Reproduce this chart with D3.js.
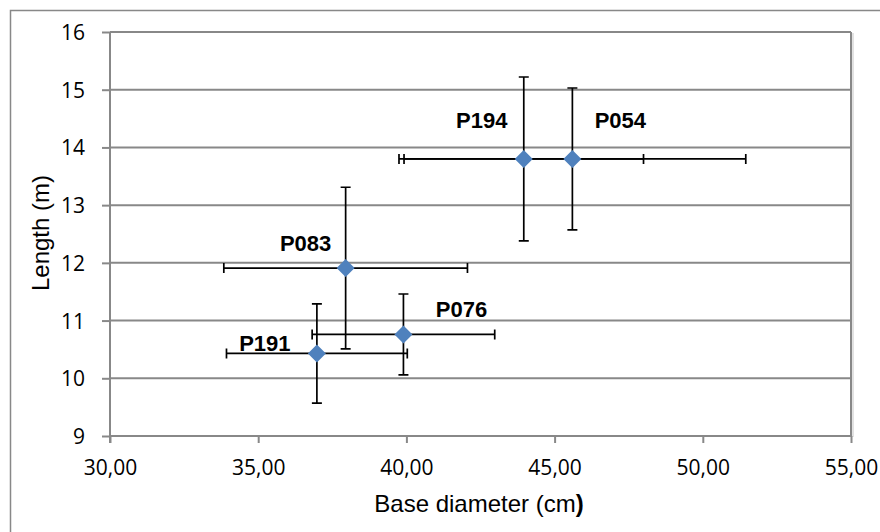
<!DOCTYPE html>
<html>
<head>
<meta charset="utf-8">
<script src="https://cdn.jsdelivr.net/npm/d3@7"></script>
<style>
  body { margin: 0; background: #fff; }
  svg { display: block; }
</style>
</head>
<body>
<div id="chart"></div>
<script>
// poles: base diameter (cm) vs length (m), with +/- error
var names    = ["P194", "P054", "P083", "P076", "P191"];
var diameter = [43.96, 45.60, 37.95, 39.90, 36.98];
var lengthM  = [13.80, 13.80, 11.91, 10.76, 10.43];
var diamErr  = [4.04, 5.85, 4.11, 3.08, 3.05];
var lenErr   = [1.42, 1.23, 1.40, 0.70, 0.86];

var xTicks = [30, 35, 40, 45, 50, 55];
var yTicks = [9, 10, 11, 12, 13, 14, 15, 16];

// label placement relative to the marker (px)
var labelDx = [-42, 48, -40, 58, -52];
var labelDy = [-31, -31, -17, -17, -2];

var W = 880, H = 532;
var plot = {left: 110, right: 851, top: 32, bottom: 436};
var grey = "#888888";

var svg = d3.select("#chart").append("svg")
    .attr("width", W)
    .attr("height", H);

svg.append("rect").attr("width", W).attr("height", H).attr("fill", "#fff");

// chart area border (runs off the picture on the right and bottom)
svg.append("rect")
    .attr("x", 10.5).attr("y", 10.5)
    .attr("width", W).attr("height", H)
    .attr("fill", "none")
    .attr("stroke", grey)
    .attr("stroke-width", 1.5);

var x = d3.scaleLinear().domain([30, 55]).range([plot.left, plot.right]);
var y = d3.scaleLinear().domain([9, 16]).range([plot.bottom, plot.top]);

var comma = d3.formatLocale({decimal: ",", thousands: ".", grouping: [3], currency: ["", ""]}).format(".2f");

var data = names.map(function(n, i) {
  return {name: n, d: diameter[i], l: lengthM[i], de: diamErr[i], le: lenErr[i], dx: labelDx[i], dy: labelDy[i]};
});

// gridlines
svg.append("g").selectAll("line")
    .data(yTicks.filter(function(t) { return t > 9; }))
  .enter().append("line")
    .attr("x1", plot.left).attr("x2", plot.right)
    .attr("y1", function(d) { return y(d); })
    .attr("y2", function(d) { return y(d); })
    .attr("stroke", grey)
    .attr("stroke-width", 2);

// plot area right edge + faint shadow
svg.append("line")
    .attr("x1", plot.right + 2).attr("x2", plot.right + 2)
    .attr("y1", plot.top + 1).attr("y2", plot.bottom + 1)
    .attr("stroke", "#d9d9d9").attr("stroke-width", 1.5);
svg.append("line")
    .attr("x1", plot.right).attr("x2", plot.right)
    .attr("y1", plot.top).attr("y2", plot.bottom)
    .attr("stroke", grey).attr("stroke-width", 2);

// axes
var xAxis = d3.axisBottom(x).tickValues(xTicks).tickFormat(comma).tickSize(7).tickPadding(6);
var yAxis = d3.axisLeft(y).tickValues(yTicks).tickFormat(d3.format("d")).tickSize(8).tickPadding(17);

var gx = svg.append("g")
    .attr("transform", "translate(0," + plot.bottom + ")")
    .call(xAxis);
var gy = svg.append("g")
    .attr("transform", "translate(" + plot.left + ",0)")
    .call(yAxis);

[gx, gy].forEach(function(g) {
  g.select(".domain").remove();
  g.selectAll(".tick line").attr("stroke", grey).attr("stroke-width", 2);
  g.selectAll(".tick text")
    .attr("fill", "#000")
    .style("font-family", "'Open Sans', sans-serif")
    .style("font-size", "21px");
});
gx.selectAll(".tick text").attr("dy", null).attr("y", 39);
gy.selectAll(".tick text").attr("dy", "0.36em");

// axis lines drawn on top of grid
svg.append("line")
    .attr("x1", plot.left).attr("x2", plot.right)
    .attr("y1", plot.bottom).attr("y2", plot.bottom)
    .attr("stroke", grey).attr("stroke-width", 2);
svg.append("line")
    .attr("x1", plot.left).attr("x2", plot.left)
    .attr("y1", plot.top).attr("y2", plot.bottom + 7)
    .attr("stroke", grey).attr("stroke-width", 2);

// axis titles
var xt = svg.append("text")
    .attr("x", 479).attr("y", 512)
    .attr("text-anchor", "middle")
    .style("font-family", "'Liberation Sans', Arial, sans-serif")
    .style("font-size", "24px")
    .text("Base diameter (cm");
xt.append("tspan").style("font-weight", "bold").text(")");

svg.append("text")
    .attr("transform", "translate(49,233) rotate(-90)")
    .attr("text-anchor", "middle")
    .style("font-family", "'Liberation Sans', Arial, sans-serif")
    .style("font-size", "24px")
    .text("Length (m)");

// error bars
var cap = 5;
var eb = svg.append("g")
    .attr("stroke", "#000")
    .attr("stroke-width", 1.7)
    .attr("fill", "none");

data.forEach(function(p) {
  var cx = x(p.d), cy = y(p.l);
  var x0 = x(p.d - p.de), x1 = x(p.d + p.de);
  var y0 = y(p.l - p.le), y1 = y(p.l + p.le);
  eb.append("path")
    .attr("d", "M" + x0 + "," + cy + "H" + x1 +
               "M" + x0 + "," + (cy - cap) + "V" + (cy + cap) +
               "M" + x1 + "," + (cy - cap) + "V" + (cy + cap));
  eb.append("path")
    .attr("d", "M" + cx + "," + y0 + "V" + y1 +
               "M" + (cx - cap) + "," + y0 + "H" + (cx + cap) +
               "M" + (cx - cap) + "," + y1 + "H" + (cx + cap));
});

// markers
svg.append("g").selectAll("path")
    .data(data)
  .enter().append("path")
    .attr("d", d3.symbol().type(d3.symbolSquare).size(162))
    .attr("transform", function(p) { return "translate(" + x(p.d) + "," + y(p.l) + ") rotate(45)"; })
    .attr("fill", "#4F81BD");

// point labels
svg.append("g").selectAll("text")
    .data(data)
  .enter().append("text")
    .attr("x", function(p) { return x(p.d) + p.dx; })
    .attr("y", function(p) { return y(p.l) + p.dy; })
    .attr("text-anchor", "middle")
    .style("font-family", "'Liberation Sans', Arial, sans-serif")
    .style("font-size", "22px")
    .style("font-weight", "bold")
    .text(function(p) { return p.name; });
</script>
</body>
</html>
